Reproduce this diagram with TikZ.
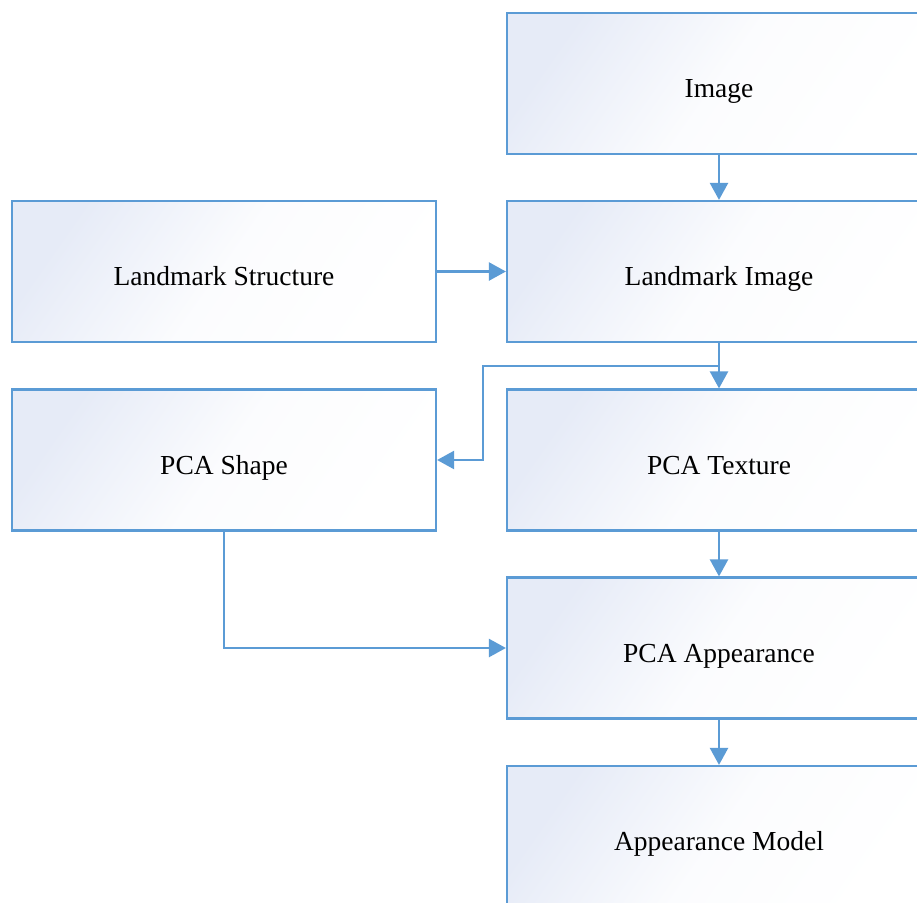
\documentclass[tikz,border=0pt]{standalone}
\usepackage{fontspec}
\setmainfont{Liberation Serif}
\usetikzlibrary{arrows.meta}
\definecolor{edgeblue}{HTML}{5B9BD5}
\definecolor{tintblue}{HTML}{E6EBF7}
\tikzset{
  stagebox/.style={draw=edgeblue, line width=2.2pt,
    top color=tintblue, bottom color=white, middle color=white!85!tintblue,
    shading angle=55,
    minimum width=424pt, minimum height=141pt,
    text height=28pt, text depth=0pt, inner sep=0pt,
    font=\fontsize{27.5}{32}\selectfont},
  flow/.style={draw=edgeblue, line width=2.4pt,
    -{Triangle[length=17pt,width=18pt]}}
}
\begin{document}
\begin{tikzpicture}[x=1pt,y=-1pt]
\useasboundingbox (0,0) rectangle (917,902);
\clip (0,0) rectangle (917,902);
\fill[white] (0,0) rectangle (917,902);

% right column
\node[stagebox] (img)    at (719,83.5)  {Image};
\node[stagebox] (limg)   at (719,271.5) {Landmark Image};
\node[stagebox] (ptex)   at (719,460)   {PCA Texture};
\node[stagebox] (papp)   at (719,648)   {PCA Appearance};
\node[stagebox] (amodel) at (719,836.5) {Appearance Model};

% left column
\node[stagebox] (lstr)   at (224,271.5) {Landmark Structure};
\node[stagebox] (pshape) at (224,460)   {PCA Shape};

% connectors
\coordinate (bend) at (483,366);
\draw[flow] (img) -- (limg);
\draw[flow] (lstr) -- (limg);
\draw[flow] (limg) -- (ptex);
\draw[flow] (limg.south) |- (bend) |- (pshape.east);
\draw[flow] (ptex) -- (papp);
\draw[flow] (pshape.south) |- (papp.west);
\draw[flow] (papp) -- (amodel);
\end{tikzpicture}
\end{document}
